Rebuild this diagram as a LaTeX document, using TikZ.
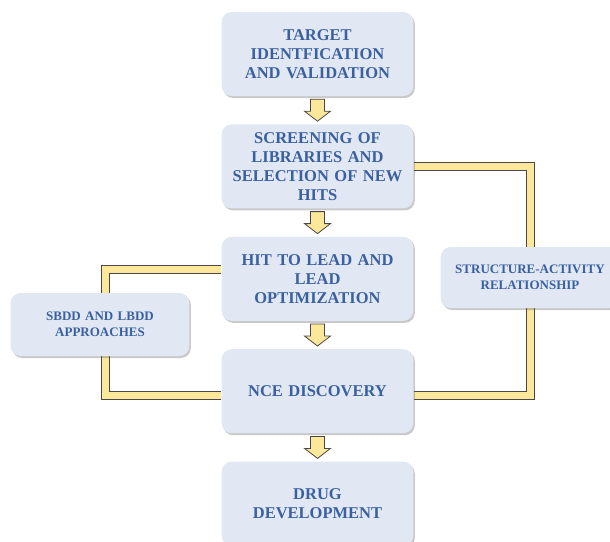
\documentclass[tikz,border=0pt]{standalone}
\usepackage{fontspec}
\setmainfont{Liberation Serif}
\usepackage{xcolor}
\usepackage{tikz}
\usetikzlibrary{positioning, calc, shadows, backgrounds}

\begin{document}
\begin{tikzpicture}[
      % un pixel del riferimento = 1pt, asse y verso il basso
      x=1pt,
      y=-1pt,
      line join=round
  ]

  % Parametri dimensionali
  \def\gap{28pt}  % distanza verticale tra le fasi

  % Palette cromatica
  \definecolor{stagefill}{RGB}{225, 232, 244}
  \definecolor{stagetext}{RGB}{58, 96, 160}
  \definecolor{pipefill}{RGB}{252, 231, 155}
  \definecolor{pipeedge}{RGB}{72, 72, 72}

  \tikzset{
      stage/.style={fill=stagefill, rounded corners=10pt, minimum width=191pt, minimum height=84pt,
                    text width=185pt, align=center, text=stagetext,
                    font=\fontsize{16.5}{19}\selectfont\bfseries,
                    drop shadow={shadow xshift=1.5pt, shadow yshift=-2pt, opacity=0.3, fill=black!70}},
      sidestage/.style={stage, minimum width=176pt, minimum height=62pt, text width=172pt,
                    font=\fontsize{13}{16.5}\selectfont\bfseries},
      pipe/.style={draw=pipeedge, line width=1pt, double=pipefill, double distance=7pt, line join=miter},
      blockarrow/.style={fill=pipefill, draw=pipeedge, line width=0.8pt, line join=miter}
  }

  \newcommand{\stagearrow}[2]{%
    \filldraw[blockarrow] ($(#1.south)+(-7,3)$) -- ($(#1.south)+(7,3)$) -- ($(#2.north)+(7,-13)$)
      -- ($(#2.north)+(13,-13)$) -- ($(#2.north)+(0,-3)$) -- ($(#2.north)+(-13,-13)$)
      -- ($(#2.north)+(-7,-13)$) -- cycle;}

  \useasboundingbox (0,0) rectangle (610,541);

  % 1. Fasi principali
  \node[stage] (target) at (317.5,54) {TARGET\\IDENTFICATION\\AND VALIDATION};
  \node[stage, below=\gap of target] (screening) {SCREENING OF\\LIBRARIES AND\\SELECTION OF NEW\\HITS};
  \node[stage, below=\gap of screening] (lead) {HIT TO LEAD AND\\LEAD\\OPTIMIZATION};
  \node[stage, below=\gap of lead] (nce) {NCE DISCOVERY};
  \node[stage, below=\gap of nce] (drug) {DRUG\\DEVELOPMENT};

  % 2. Fasi laterali
  \node[sidestage, minimum width=174pt, minimum height=61pt] (sar) at (530,277.5) {STRUCTURE-ACTIVITY\\RELATIONSHIP};
  \node[sidestage, minimum height=63pt] (sbdd) at (100,324.5) {SBDD AND LBDD\\APPROACHES};

  % 3. Frecce tra le fasi
  \stagearrow{target}{screening}
  \stagearrow{screening}{lead}
  \stagearrow{lead}{nce}
  \stagearrow{nce}{drug}

  % 4. Collegamenti di ritorno
  \begin{scope}[on background layer]
    \draw[pipe] (screening.east) -| (sar.north);
    \draw[pipe] (sar.south) |- ([yshift=-4pt]nce.east);
    \draw[pipe] ([yshift=9pt]lead.west) -| ([xshift=5pt]sbdd.north);
    \draw[pipe] ([xshift=5pt]sbdd.south) |- ([yshift=-4pt]nce.west);
  \end{scope}

\end{tikzpicture}
\end{document}
